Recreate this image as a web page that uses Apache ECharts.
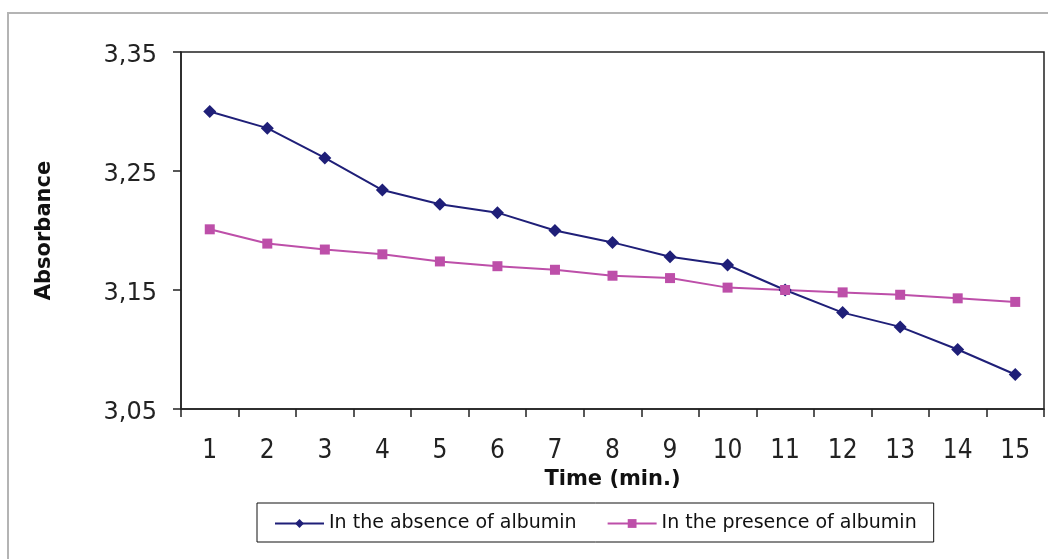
<!DOCTYPE html>
<html>
<head>
<meta charset="utf-8">
<script src="https://cdn.jsdelivr.net/npm/echarts@6/dist/echarts.min.js"></script>
<style>
  html, body { margin: 0; padding: 0; background: #fff; }
  #chart { width: 1048px; height: 559px; }
</style>
</head>
<body>
<div id="chart"></div>
<script>
// time points (min.)
const timeLabels = ['1', '2', '3', '4', '5', '6', '7', '8', '9', '10', '11', '12', '13', '14', '15'];

// absorbance values
const absenceValues = [3.300, 3.286, 3.261, 3.234, 3.222, 3.215, 3.200, 3.190, 3.178, 3.171, 3.150, 3.131, 3.119, 3.100, 3.079];
const presenceValues = [3.201, 3.189, 3.184, 3.180, 3.174, 3.170, 3.167, 3.162, 3.160, 3.152, 3.150, 3.148, 3.146, 3.143, 3.140];

const yTicks = [3.05, 3.15, 3.25, 3.35];

const seriesNames = ['In the absence of albumin', 'In the presence of albumin'];

const chart = echarts.init(document.getElementById('chart'));

const option = {
  backgroundColor: '#fff',
  animation: false,
  textStyle: { fontFamily: 'DejaVu Sans' },
  graphic: [{
    type: 'rect',
    silent: true,
    z: -10,
    shape: { x: 8, y: 13, width: 1200, height: 700 },
    style: { fill: 'none', stroke: '#b4b4b4', lineWidth: 2 }
  }],
  grid: {
    left: 181,
    right: 4,
    top: 52,
    bottom: 150,
    show: true,
    borderColor: '#222',
    borderWidth: 1.5,
    backgroundColor: 'transparent'
  },
  legend: {
    left: 257,
    top: 503,
    padding: [11, 17, 9, 17],
    borderColor: '#111',
    borderWidth: 1,
    itemWidth: 49,
    itemHeight: 11,
    itemGap: 30,
    textStyle: { fontFamily: 'DejaVu Sans', fontSize: 19, color: '#111' },
    data: seriesNames
  },
  xAxis: {
    type: 'category',
    data: timeLabels,
    boundaryGap: true,
    name: 'Time (min.)',
    nameLocation: 'middle',
    nameGap: 60,
    nameTextStyle: { fontFamily: 'DejaVu Sans', fontWeight: 'bold', fontSize: 21, color: '#111' },
    axisLine: { lineStyle: { color: '#222', width: 1.5 } },
    axisTick: { show: true, length: 8, lineStyle: { color: '#222', width: 1.5 } },
    axisLabel: { fontFamily: 'DejaVu Sans Condensed', fontSize: 26, color: '#222', margin: 29 },
    splitLine: { show: false }
  },
  yAxis: {
    type: 'value',
    min: 3.05,
    max: 3.35,
    interval: 0.05,
    name: 'Absorbance',
    nameLocation: 'middle',
    nameGap: 126,
    nameTextStyle: { fontFamily: 'DejaVu Sans', fontWeight: 'bold', fontSize: 21, color: '#111' },
    axisLine: { show: true, lineStyle: { color: '#222', width: 1.5 } },
    axisTick: { show: true, length: 8, customValues: yTicks, lineStyle: { color: '#222', width: 1.5 } },
    axisLabel: {
      fontFamily: 'DejaVu Sans',
      fontSize: 24,
      color: '#222',
      margin: 24,
      customValues: yTicks,
      formatter: (v) => '{v|' + v.toFixed(2).replace('.', ',') + '}',
      rich: {
        v: { fontFamily: 'DejaVu Sans', fontSize: 24, color: '#222', padding: [8, 0, 0, 0] }
      }
    },
    splitLine: { show: false }
  },
  series: [
    {
      name: seriesNames[0],
      type: 'line',
      data: absenceValues,
      symbol: 'diamond',
      symbolSize: 13,
      lineStyle: { color: '#1f1f78', width: 2 },
      itemStyle: { color: '#1f1f78' }
    },
    {
      name: seriesNames[1],
      type: 'line',
      data: presenceValues,
      symbol: 'rect',
      symbolSize: 10,
      lineStyle: { color: '#bd4fa9', width: 2 },
      itemStyle: { color: '#bd4fa9' }
    }
  ]
};

chart.setOption(option);
</script>
</body>
</html>
